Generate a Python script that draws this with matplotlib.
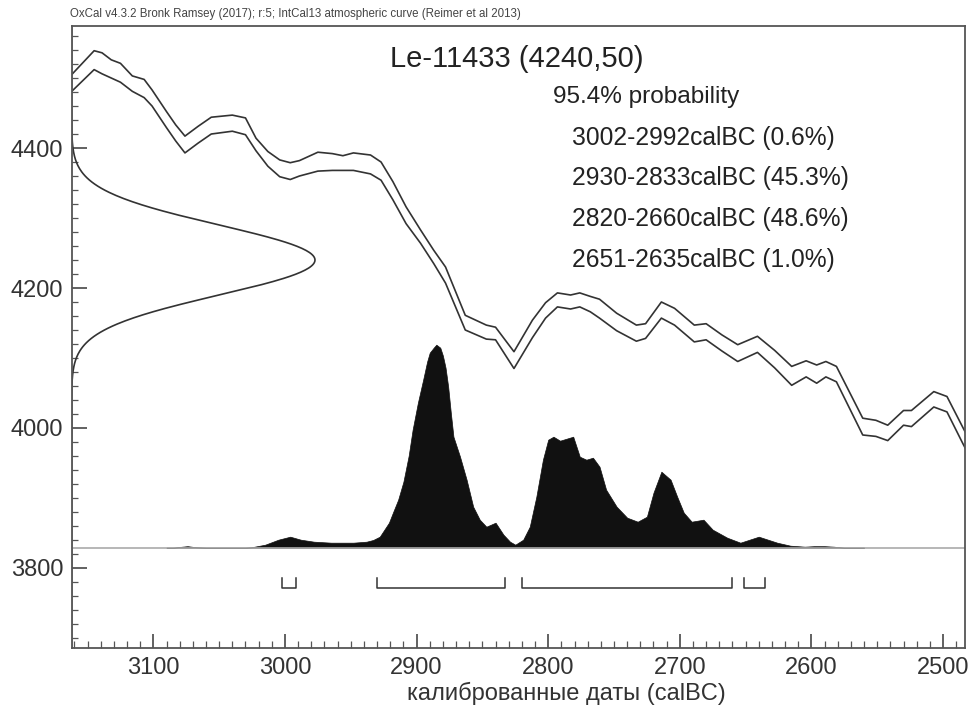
import numpy as np
import matplotlib
matplotlib.use("Agg")
import matplotlib.pyplot as plt
from matplotlib.ticker import MultipleLocator

plt.rcParams['font.family'] = ['Liberation Sans', 'DejaVu Sans']

# --- datos ---
sample_name = "Le-11433"
c14_age = 4240
c14_err = 50

# curva de calibracion IntCal13 (borde superior / inferior, BP)
curve_years = [3167, 3162, 3145, 3139, 3132, 3125, 3116, 3107, 3101, 3090, 3083,
               3076, 3066, 3056, 3040, 3030, 3022, 3013, 3004, 2996, 2989, 2975,
               2964, 2956, 2948, 2935, 2927, 2918, 2908, 2897, 2887, 2878, 2863,
               2847, 2840, 2826, 2812, 2802, 2793, 2783, 2776, 2768, 2761, 2748,
               2733, 2726, 2714, 2704, 2689, 2680, 2668, 2656, 2641, 2628, 2615,
               2604, 2596, 2589, 2581, 2561, 2551, 2542, 2530, 2524, 2507, 2497,
               2485, 2480]
curve_hi = [4494, 4505, 4539, 4536, 4526, 4521, 4503, 4498, 4483, 4452, 4433,
            4417, 4431, 4444, 4447, 4443, 4414, 4395, 4383, 4379, 4382, 4394,
            4392, 4389, 4393, 4390, 4380, 4352, 4316, 4283, 4254, 4230, 4161,
            4147, 4144, 4109, 4154, 4179, 4193, 4190, 4193, 4188, 4184, 4164,
            4147, 4149, 4180, 4171, 4147, 4149, 4133, 4119, 4131, 4111, 4088,
            4096, 4090, 4095, 4088, 4014, 4011, 4004, 4025, 4025, 4052, 4045,
            4001, 3983]
curve_lo = [4471, 4481, 4512, 4506, 4500, 4494, 4481, 4472, 4460, 4429, 4410,
            4393, 4407, 4420, 4424, 4419, 4396, 4374, 4359, 4355, 4360, 4367,
            4368, 4368, 4368, 4363, 4354, 4326, 4292, 4264, 4235, 4207, 4140,
            4127, 4126, 4085, 4129, 4157, 4173, 4170, 4173, 4166, 4157, 4139,
            4124, 4128, 4157, 4147, 4123, 4126, 4110, 4095, 4108, 4086, 4061,
            4073, 4064, 4073, 4066, 3990, 3988, 3982, 4004, 4002, 4030, 4023,
            3978, 3960]

# distribucion calibrada (probabilidad relativa)
prob_years = [3090, 3085, 3078, 3074, 3068, 3060, 3030, 3025, 3015, 3005, 2996,
              2988, 2978, 2965, 2948, 2938, 2933, 2928, 2925, 2921, 2918, 2914,
              2910, 2906, 2903, 2899, 2895, 2892, 2890, 2887, 2885, 2882, 2880,
              2878, 2876, 2874, 2872, 2867, 2862, 2857, 2852, 2847,
              2840, 2834, 2829, 2825, 2819, 2814, 2809, 2804, 2800, 2796, 2791,
              2786, 2781, 2776, 2771, 2766, 2761, 2756, 2748, 2740, 2732, 2725,
              2720, 2714, 2707, 2702, 2697, 2691, 2682, 2675, 2664, 2654, 2640,
              2626, 2616, 2605, 2598, 2590, 2583, 2575, 2560]
prob = [0, 0, 1, 1.5, 0.5, 0, 0, 0.5, 3, 8, 11,
        8, 6, 5, 5, 6, 7.7, 11, 17, 25, 35, 48,
        66, 92, 118, 145, 168, 186, 195, 200, 203, 200, 192,
        180, 161, 135, 111, 91, 68, 41, 28, 21,
        25, 13, 6, 3, 8, 21, 51, 88, 108, 111, 107,
        109, 111, 91, 88, 90, 81, 58, 41, 30, 26, 31,
        55, 76, 68, 51, 35, 26, 28, 18, 10, 5, 11,
        5, 2, 1, 1.5, 1.5, 1, 0, 0]

# rangos 95.4%
ranges = [(3002, 2992), (2930, 2833), (2820, 2660), (2651, 2635)]
range_labels = ["3002-2992calBC (0.6%)", "2930-2833calBC (45.3%)",
                "2820-2660calBC (48.6%)", "2651-2635calBC (1.0%)"]

XLIM = (3162.2, 2483.3)
YLIM = (3686.4, 4573.6)
BASE = 3829          # linea base de la distribucion
PEAK_H = 290         # altura del pico (en unidades BP)
GAUSS_W = 185        # ancho de la curva de 14C (en anios)
LINE_C = '#333333'

fig = plt.figure(figsize=(9.72, 7.06), dpi=100)
ax = fig.add_axes([71.5 / 972, 1 - 647.5 / 706, (965 - 71.5) / 972, (647.5 - 26.5) / 706])

# curva de calibracion
ax.plot(curve_years, curve_hi, color=LINE_C, lw=1.2)
ax.plot(curve_years, curve_lo, color=LINE_C, lw=1.2)

# distribucion de la medicion (eje y)
ages = np.linspace(YLIM[0], YLIM[1], 600)
g = np.exp(-(ages - c14_age) ** 2 / (2 * c14_err ** 2))
ax.plot(XLIM[0] - GAUSS_W * g, ages, color=LINE_C, lw=1.2)

# distribucion calibrada
p = np.array(prob) / max(prob)
ax.fill_between(prob_years, BASE, BASE + p * PEAK_H, color='#111111', lw=0.5, edgecolor='#111111')
ax.axhline(BASE, color='#aaaaaa', lw=1.2)

# corchetes de rangos
for a, b in ranges:
    ax.plot([a, a, b, b], [3785, 3771, 3771, 3785], color=LINE_C, lw=1.1)

ax.set_xlim(*XLIM)
ax.set_ylim(*YLIM)
ax.xaxis.set_major_locator(MultipleLocator(100))
ax.xaxis.set_minor_locator(MultipleLocator(10))
ax.yaxis.set_major_locator(MultipleLocator(200))
ax.yaxis.set_minor_locator(MultipleLocator(20))
ax.tick_params(which='both', direction='in', top=False, right=False,
               color='#555555', labelsize=17, labelcolor='#333333')
ax.tick_params(axis='y', which='major', length=11, width=1.3, pad=6)
ax.tick_params(axis='y', which='minor', length=4, width=0.9)
ax.tick_params(axis='x', which='major', length=10, width=1.3, pad=7)
ax.tick_params(axis='x', which='minor', length=5, width=0.9)
for s in ax.spines.values():
    s.set_color('#555555')
    s.set_linewidth(1.3)

# etiqueta x (desplazada a la derecha como en el original)
fig.text(566 / 972, 1 - 693 / 706, "калиброванные даты (calBC)", fontsize=17,
         color='#333333', va='center', ha='center')

# textos
fig.text(70 / 972, 1 - 14 / 706, "OxCal v4.3.2 Bronk Ramsey (2017); r:5; IntCal13 atmospheric curve (Reimer et al 2013)",
         fontsize=8.3, color='#444444', va='center', ha='left')
fig.text(390 / 972, 1 - 59 / 706, f"{sample_name} ({c14_age},{c14_err})", fontsize=21,
         color='#222222', va='center', ha='left')
fig.text(553 / 972, 1 - 97 / 706, "95.4% probability", fontsize=17.6,
         color='#222222', va='center', ha='left')
for i, lab in enumerate(range_labels):
    fig.text(572 / 972, 1 - (138 + i * 40.5) / 706, lab, fontsize=17.7,
             color='#222222', va='center', ha='left')

fig.savefig("out.png", dpi=100)
plt.close()
